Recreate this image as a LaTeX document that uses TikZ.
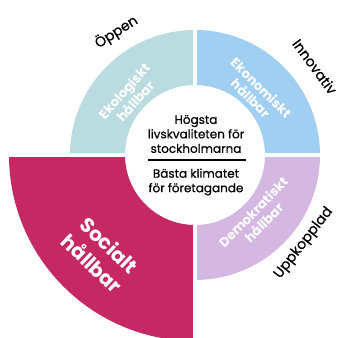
\documentclass[tikz,border=0pt]{standalone}
\usepackage{fontspec}
\setmainfont{Poppins}
\newfontfamily\medfont[FakeBold=0.6]{Poppins}
\definecolor{ecolo}{RGB}{186,220,225}
\definecolor{econ}{RGB}{160,207,242}
\definecolor{demo}{RGB}{212,184,226}
\definecolor{soc}{RGB}{198,40,100}
\tikzset{
  outerlbl/.style={font=\medfont\fontsize{14}{16}\selectfont, text=black, inner sep=0pt},
  seglbl/.style={font=\bfseries\fontsize{13}{15}\selectfont, text=white, align=center, inner sep=0pt},
  biglbl/.style={font=\bfseries\fontsize{20}{25}\selectfont, text=white, align=center, inner sep=0pt},
  centerlbl/.style={font=\medfont\fontsize{12}{14.5}\selectfont, text=black, align=center, inner sep=0pt},
  gap/.style={white, line width=3.5pt}
}
\begin{document}
\begin{tikzpicture}[x=1pt,y=1pt]
\useasboundingbox (0,0) rectangle (338,338);
\coordinate (C) at (195,183);
% sectors
\fill[ecolo,shift={(C)}] (180:125) arc[start angle=180,end angle=90,radius=125] -- (90:70) arc[start angle=90,end angle=180,radius=70] -- cycle;
\fill[econ,shift={(C)}] (90:125) arc[start angle=90,end angle=0,radius=125] -- (0:70) arc[start angle=0,end angle=90,radius=70] -- cycle;
\fill[demo,shift={(C)}] (0:125) arc[start angle=0,end angle=-90,radius=125] -- (-90:70) arc[start angle=-90,end angle=0,radius=70] -- cycle;
\fill[soc,shift={(C)}] (180:186) arc[start angle=180,end angle=270,radius=186] -- (270:70) arc[start angle=270,end angle=180,radius=70] -- cycle;
% gaps
\coordinate (gt) at ([shift={(0,190)}]C);
\coordinate (gb) at ([shift={(0,-190)}]C);
\coordinate (gl) at ([shift={(-190,0)}]C);
\coordinate (gr) at ([shift={(190,0)}]C);
\draw[gap] (gt) -- (gb);
\draw[gap] (gl) -- (gr);
% center text
\node[centerlbl] (top) at (196,204) {Högsta\\livskvaliteten för\\stockholmarna};
\node[centerlbl] (bot) at (196,156) {Bästa klimatet\\för företagande};
\coordinate (rl) at (148,178);
\coordinate (rr) at (246,178);
\draw[line width=1.2pt] (rl) -- (rr);
% segment labels
\node[seglbl, rotate=48] (eko) at ([shift={(138:88)}]C) {Ekologiskt\\hållbar};
\node[seglbl, rotate=-44.5] (ekn) at ([shift={(45.5:87)}]C) {Ekonomiskt\\hållbar};
\node[seglbl, rotate=45.5] (dem) at ([shift={(-44.5:89)}]C) {Demokratiskt\\hållbar};
\node[biglbl, rotate=-43.5] (soc) at ([shift={(-133.5:137)}]C) {Socialt\\hållbar};
% outer labels
\node[outerlbl, rotate=32.6] (op) at ([shift={(122.6:146)}]C) {Öppen};
\node[outerlbl, rotate=-53.6] (inn) at ([shift={(36.4:149)}]C) {Innovativ};
\node[outerlbl, rotate=52] (upp) at ([shift={(-39:140)}]C) {Uppkopplad};
\end{tikzpicture}
\end{document}
